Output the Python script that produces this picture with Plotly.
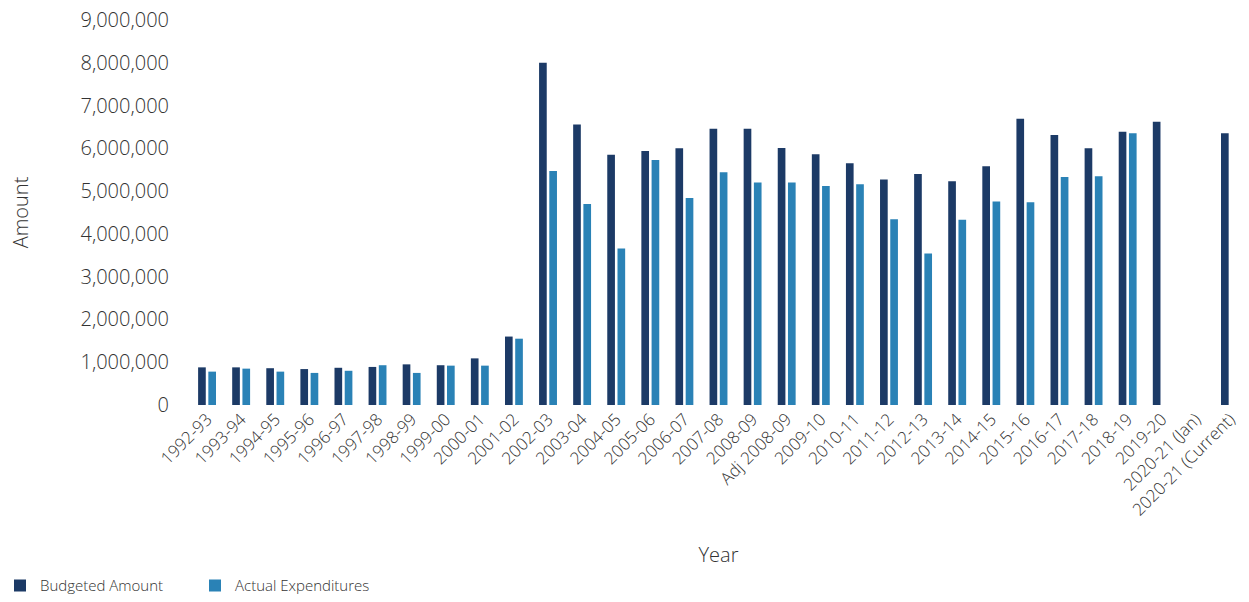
import plotly.graph_objects as go

years = ["1992-93", "1993-94", "1994-95", "1995-96", "1996-97", "1997-98", "1998-99",
         "1999-00", "2000-01", "2001-02", "2002-03", "2003-04", "2004-05", "2005-06",
         "2006-07", "2007-08", "2008-09", "Adj 2008-09", "2009-10", "2010-11", "2011-12",
         "2012-13", "2013-14", "2014-15", "2015-16", "2016-17", "2017-18", "2018-19",
         "2019-20", "2020-21 (Jan)", "2020-21 (Current)"]

budgeted = [880000, 880000, 860000, 840000, 870000, 890000, 950000,
            930000, 1090000, 1600000, 8000000, 6560000, 5850000, 5940000,
            6000000, 6460000, 6460000, 6010000, 5860000, 5650000, 5270000,
            5400000, 5230000, 5580000, 6690000, 6310000, 6000000, 6390000,
            6620000, None, 6350000]

actual = [780000, 850000, 780000, 750000, 800000, 930000, 750000,
          920000, 920000, 1550000, 5470000, 4700000, 3660000, 5730000,
          4840000, 5440000, 5200000, 5200000, 5120000, 5160000, 4340000,
          3540000, 4330000, 4760000, 4740000, 5330000, 5350000, 6350000,
          None, None, None]

y_ticks = [0, 1000000, 2000000, 3000000, 4000000, 5000000, 6000000, 7000000, 8000000, 9000000]

FONT = "Open Sans"
TXT = "#333333"

fig = go.Figure()
fig.add_trace(go.Bar(name="Budgeted Amount", x=years, y=budgeted,
                     marker=dict(color="#1c3a66", line=dict(width=0))))
fig.add_trace(go.Bar(name="Actual Expenditures", x=years, y=actual,
                     marker=dict(color="#2a82b6", line=dict(width=0))))

fig.update_layout(
    width=1249, height=602,
    margin=dict(l=190, r=2, t=20, b=197),
    paper_bgcolor="white", plot_bgcolor="white",
    barmode="group", bargap=0.4, bargroupgap=0.25,
    font=dict(family=FONT, color=TXT, weight=300),
    showlegend=True,
    legend=dict(orientation="h", xref="container", yref="container",
                x=0.0, y=0.027, xanchor="left", yanchor="middle",
                font=dict(size=15, color=TXT, family=FONT, weight=300),
                entrywidth=150, itemwidth=30, bgcolor="rgba(0,0,0,0)"),
    xaxis=dict(
        type="category", tickangle=-45, showgrid=False, showline=False, zeroline=False,
        tickfont=dict(size=17, color=TXT, family=FONT, weight=300), ticks="",
        title=dict(text="Year", font=dict(size=20, color=TXT, family=FONT, weight=300), standoff=28),
        range=[-0.5, 30.5],
    ),
    yaxis=dict(
        range=[0, 9000000], tickvals=y_ticks, tickformat=",d",
        showgrid=False, showline=False, zeroline=False, ticks="",
        ticklabelstandoff=20,
        tickfont=dict(size=20, color=TXT, family=FONT, weight=300),
        title=dict(text="Amount", font=dict(size=20, color=TXT, family=FONT, weight=300), standoff=46),
    ),
)

fig.write_html("out.html", config={"displayModeBar": False},
               post_script="document.body.style.margin='0';")
